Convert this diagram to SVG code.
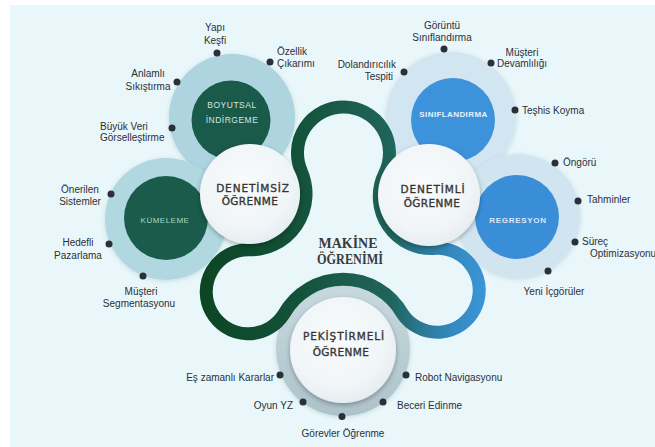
<svg xmlns="http://www.w3.org/2000/svg" width="655" height="447" viewBox="0 0 655 447">
<defs>
  <linearGradient id="loopGrad" gradientUnits="userSpaceOnUse" x1="200" y1="0" x2="490" y2="0">
    <stop offset="0" stop-color="#0b4524"/>
    <stop offset="0.345" stop-color="#14523a"/>
    <stop offset="0.517" stop-color="#1c5d4e"/>
    <stop offset="0.655" stop-color="#1f6459"/>
    <stop offset="0.76" stop-color="#2a7894"/>
    <stop offset="0.88" stop-color="#348ac2"/>
    <stop offset="1" stop-color="#3c97da"/>
  </linearGradient>
  <radialGradient id="whiteGrad" cx="0.45" cy="0.4" r="0.65">
    <stop offset="0" stop-color="#f9fbfc"/>
    <stop offset="0.7" stop-color="#f0f5f7"/>
    <stop offset="1" stop-color="#e3ebef"/>
  </radialGradient>
  <linearGradient id="grayRing" x1="0" y1="0" x2="0" y2="1">
    <stop offset="0" stop-color="#c8dadf"/>
    <stop offset="1" stop-color="#adc3ca"/>
  </linearGradient>
  <filter id="shadow" x="-30%" y="-30%" width="160%" height="160%">
    <feDropShadow dx="0" dy="2" stdDeviation="2.5" flood-color="#000" flood-opacity="0.3"/>
  </filter>
  <filter id="soft" x="-20%" y="-20%" width="140%" height="140%">
    <feDropShadow dx="0" dy="1" stdDeviation="2" flood-color="#2a5060" flood-opacity="0.18"/>
  </filter>
  <style>
    .lbl { font-family: "Liberation Sans", Arial, sans-serif; font-size: 10px; fill: #2b3038; }
    .mid { text-anchor: middle; }
    .end { text-anchor: end; }
    .dot { fill: #2a2f38; }
    .hub { font-family: "DejaVu Sans", sans-serif; font-size: 10.5px; fill: #353535; stroke: #353535; stroke-width: 0.35px; letter-spacing: 0.9px; text-anchor: middle; }
    .hub2 { letter-spacing: 0.4px; }
    .inner { font-family: "Liberation Sans", Arial, sans-serif; font-size: 8.5px; text-anchor: middle; letter-spacing: 0.5px; }
    .innerb { font-family: "Liberation Sans", Arial, sans-serif; font-size: 8px; font-weight: bold; text-anchor: middle; letter-spacing: 0.4px; }
    .title { font-family: "Liberation Serif", "Times New Roman", serif; font-weight: bold; font-size: 14px; fill: #3a3a3a; text-anchor: middle; }
    .white { fill: url(#whiteGrad); filter: url(#shadow); }
  </style>
</defs>

<rect x="0" y="0" width="655" height="447" fill="#ffffff"/>
<rect x="10" y="5" width="645" height="442" fill="#e9f7fa"/>

<g id="rings">
  <circle cx="232" cy="117" r="63" fill="#aed5df" filter="url(#soft)"/>
  <circle cx="166" cy="219" r="61" fill="#b1d7e1" filter="url(#soft)"/>
  <circle cx="451" cy="117" r="65" fill="#d2e6f1" filter="url(#soft)"/>
  <circle cx="518" cy="216" r="62" fill="#d1e5f0" filter="url(#soft)"/>
  <circle cx="343" cy="349" r="67" fill="url(#grayRing)" filter="url(#soft)"/>
</g>

<g id="boyutsal-indirgeme">
  <circle cx="231" cy="120" r="39.5" fill="#1a5a4a"/>
  <text class="inner" x="232" y="108" fill="#cfe7e0">BOYUTSAL</text>
  <text class="inner" x="232" y="122.5" fill="#cfe7e0">İNDİRGEME</text>
</g>
<g id="kumeleme">
  <circle cx="166" cy="218" r="42" fill="#1b5b4b"/>
  <text class="inner" x="165" y="222.5" fill="#a8d8c6" style="font-size:8px">KÜMELEME</text>
</g>
<g id="siniflandirma">
  <circle cx="453" cy="120" r="42" fill="#3d92dc"/>
  <text class="innerb" x="453.5" y="117" fill="#e8f3fb">SINIFLANDIRMA</text>
</g>
<g id="regresyon">
  <circle cx="517" cy="217" r="42" fill="#3a8ed8"/>
  <text class="innerb" x="518" y="223" fill="#d8e9f7" style="letter-spacing:0.7px">REGRESYON</text>
</g>

<g id="connectors">
  <path d="M 301.6 172 A 56 56 0 0 1 248.3 249.8 A 42 42 0 1 0 283.9 314 A 68 68 0 0 1 402.6 314 A 42 42 0 1 0 436 248.3 A 52 52 0 0 1 384.8 173.2 A 46 46 0 1 0 301.6 172 Z" fill="none" stroke="url(#loopGrad)" stroke-width="13"/>
</g>

<g id="denetimsiz-ogrenme">
  <circle class="white" cx="250" cy="194" r="50"/>
  <text class="hub" x="253" y="191.5">DENETİMSİZ</text>
  <text class="hub hub2" x="250" y="205">ÖĞRENME</text>
</g>
<g id="denetimli-ogrenme">
  <circle class="white" cx="429" cy="195" r="51"/>
  <text class="hub" x="433" y="192.5">DENETİMLİ</text>
  <text class="hub hub2" x="432" y="207">ÖĞRENME</text>
</g>
<g id="pekistirmeli-ogrenme">
  <circle class="white" cx="343" cy="350" r="53"/>
  <text class="hub" x="344" y="340">PEKİŞTİRMELİ</text>
  <text class="hub hub2" x="341" y="356">ÖĞRENME</text>
</g>

<g id="makine-ogrenimi">
  <text class="title" x="348" y="248" textLength="59" lengthAdjust="spacingAndGlyphs">MAKİNE</text>
  <text class="title" x="350" y="264" textLength="66" lengthAdjust="spacingAndGlyphs">ÖĞRENİMİ</text>
</g>

<g id="boyutsal-items">
  <circle class="dot" cx="217" cy="53" r="3.5"/>
  <circle class="dot" cx="270" cy="62" r="3.5"/>
  <circle class="dot" cx="177" cy="82" r="3.5"/>
  <circle class="dot" cx="172" cy="128" r="3.5"/>
  <text class="lbl mid" x="215" y="31">Yapı</text>
  <text class="lbl mid" x="215" y="44">Keşfi</text>
  <text class="lbl" x="277" y="54.5">Özellik</text>
  <text class="lbl" x="277" y="66.5">Çıkarımı</text>
  <text class="lbl mid" x="148" y="77">Anlamlı</text>
  <text class="lbl mid" x="148" y="89.5">Sıkıştırma</text>
  <text class="lbl" x="100" y="130">Büyük Veri</text>
  <text class="lbl" x="100" y="141">Görselleştirme</text>
</g>

<g id="kumeleme-items">
  <circle class="dot" cx="111" cy="194" r="3.5"/>
  <circle class="dot" cx="109" cy="244" r="3.5"/>
  <circle class="dot" cx="143" cy="276" r="3.5"/>
  <text class="lbl mid" x="80" y="192.5">Önerilen</text>
  <text class="lbl mid" x="80" y="205">Sistemler</text>
  <text class="lbl mid" x="78" y="246">Hedefli</text>
  <text class="lbl mid" x="78" y="258.5">Pazarlama</text>
  <text class="lbl mid" x="141" y="295">Müşteri</text>
  <text class="lbl mid" x="139" y="306.5">Segmentasyonu</text>
</g>

<g id="siniflandirma-items">
  <circle class="dot" cx="444" cy="49" r="3.5"/>
  <circle class="dot" cx="491" cy="63" r="3.5"/>
  <circle class="dot" cx="404" cy="72" r="3.5"/>
  <circle class="dot" cx="515" cy="110" r="3.5"/>
  <text class="lbl mid" x="442" y="29">Görüntü</text>
  <text class="lbl mid" x="442" y="40.5">Sınıflandırma</text>
  <text class="lbl mid" x="522" y="55.5">Müşteri</text>
  <text class="lbl mid" x="522" y="66.5">Devamlılığı</text>
  <text class="lbl end" x="396" y="68">Dolandırıcılık</text>
  <text class="lbl end" x="393" y="79.5">Tespiti</text>
  <text class="lbl" x="522" y="113.5">Teşhis Koyma</text>
</g>

<g id="regresyon-items">
  <circle class="dot" cx="555" cy="163" r="3.5"/>
  <circle class="dot" cx="578" cy="201" r="3.5"/>
  <circle class="dot" cx="575" cy="242" r="3.5"/>
  <circle class="dot" cx="548" cy="271" r="3.5"/>
  <text class="lbl" x="563" y="165.5">Öngörü</text>
  <text class="lbl" x="587" y="203">Tahminler</text>
  <text class="lbl" x="582" y="245">Süreç</text>
  <text class="lbl" x="590" y="256.5">Optimizasyonu</text>
  <text class="lbl mid" x="554" y="295">Yeni İçgörüler</text>
</g>

<g id="pekistirmeli-items">
  <circle class="dot" cx="280" cy="375" r="3.5"/>
  <circle class="dot" cx="406" cy="375" r="3.5"/>
  <circle class="dot" cx="303" cy="402" r="3.5"/>
  <circle class="dot" cx="383" cy="402" r="3.5"/>
  <circle class="dot" cx="342" cy="416.5" r="3.5"/>
  <text class="lbl end" x="274" y="381">Eş zamanlı Kararlar</text>
  <text class="lbl" x="415" y="381">Robot Navigasyonu</text>
  <text class="lbl end" x="293" y="409">Oyun YZ</text>
  <text class="lbl" x="397" y="409">Beceri Edinme</text>
  <text class="lbl mid" x="343" y="436.5">Görevler Öğrenme</text>
</g>
</svg>
